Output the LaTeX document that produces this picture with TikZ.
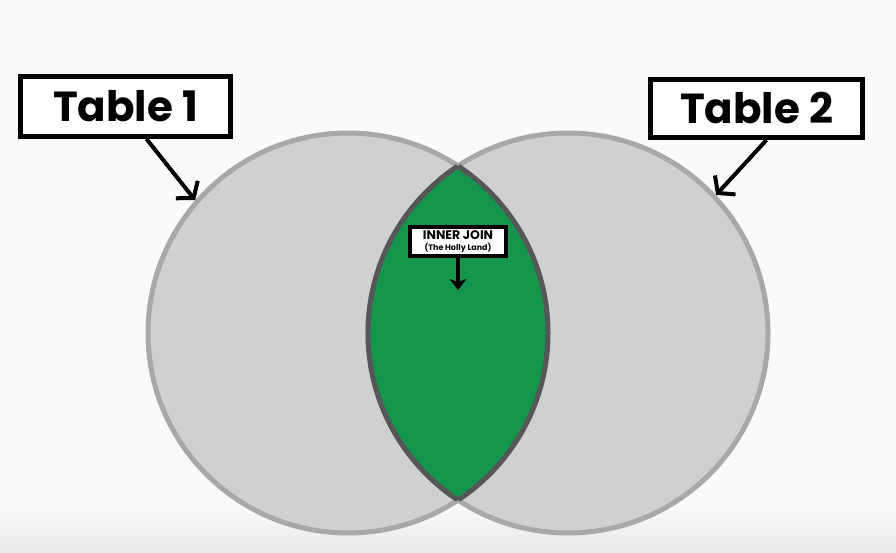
\documentclass[tikz,border=0pt]{standalone}
\usepackage{fontspec}
\newfontfamily\tablefont{Poppins}
\usepackage{tikz}
\usetikzlibrary{arrows.meta}
\definecolor{bgwhite}{HTML}{FAFAFA}
\definecolor{vennfill}{HTML}{CFD0D2}
\definecolor{venndraw}{HTML}{A7A8AA}
\definecolor{joingreen}{HTML}{13964B}
\definecolor{joindraw}{HTML}{555658}

\begin{document}
\begin{tikzpicture}[x=1pt,y=-1pt]
\fill[bgwhite] (0,0) rectangle (896,553);
\shade[top color=bgwhite, bottom color=black!9] (0,505) rectangle (896,553);
\useasboundingbox (0,0) rectangle (896,553);

\begin{scope}[every node/.style={circle,minimum size=400pt,inner sep=0pt,
              fill=vennfill,draw=venndraw,line width=5pt}]
    \node (T1) at (348,333) {};
    \node (T2) at (568,333) {};
\end{scope}

% the overlap of both tables
\begin{scope}
    \clip (T1.center) circle (200pt);
    \fill[joingreen] (T2.center) circle (200pt);
    \draw[joindraw, line width=5pt] (T2.center) circle (200pt);
\end{scope}
\begin{scope}
    \clip (T2.center) circle (200pt);
    \draw[joindraw, line width=5pt] (T1.center) circle (200pt);
\end{scope}

\begin{scope}[every node/.style={draw=black,fill=white,line width=5pt,
              font=\tablefont\bfseries\fontsize{42}{42}\selectfont}]
    \node[minimum width=210pt,minimum height=60pt] (A) at (125.5,106.5) {Table 1};
    \node[minimum width=212pt,minimum height=58pt] (B) at (756.5,108.5) {Table 2};
    \node[line width=4pt,minimum width=96pt,minimum height=29pt,inner sep=0pt,
          align=center,font=\tablefont\bfseries] (J) at (458,241.5)
        {\fontsize{12.5}{12.5}\selectfont INNER JOIN\\[-1pt]
         \fontsize{8}{9}\selectfont (The Holly Land)};
\end{scope}

\coordinate (A1) at ([xshift=21pt]A.south);
\coordinate (B1) at ([xshift=10pt]B.south);
\coordinate (J1) at (458,290);

\begin{scope}[>={Straight Barb[length=11pt,width=28pt]},
              every edge/.style={draw=black,line width=4pt}]
    \path [->] (A1) edge (T1.139);
    \path [->] (B1) edge (T2.43);
    \path [-{Stealth[length=11pt,width=17pt,inset=3pt]}, line width=5pt] (J) edge (J1);
\end{scope}
\end{tikzpicture}
\end{document}
